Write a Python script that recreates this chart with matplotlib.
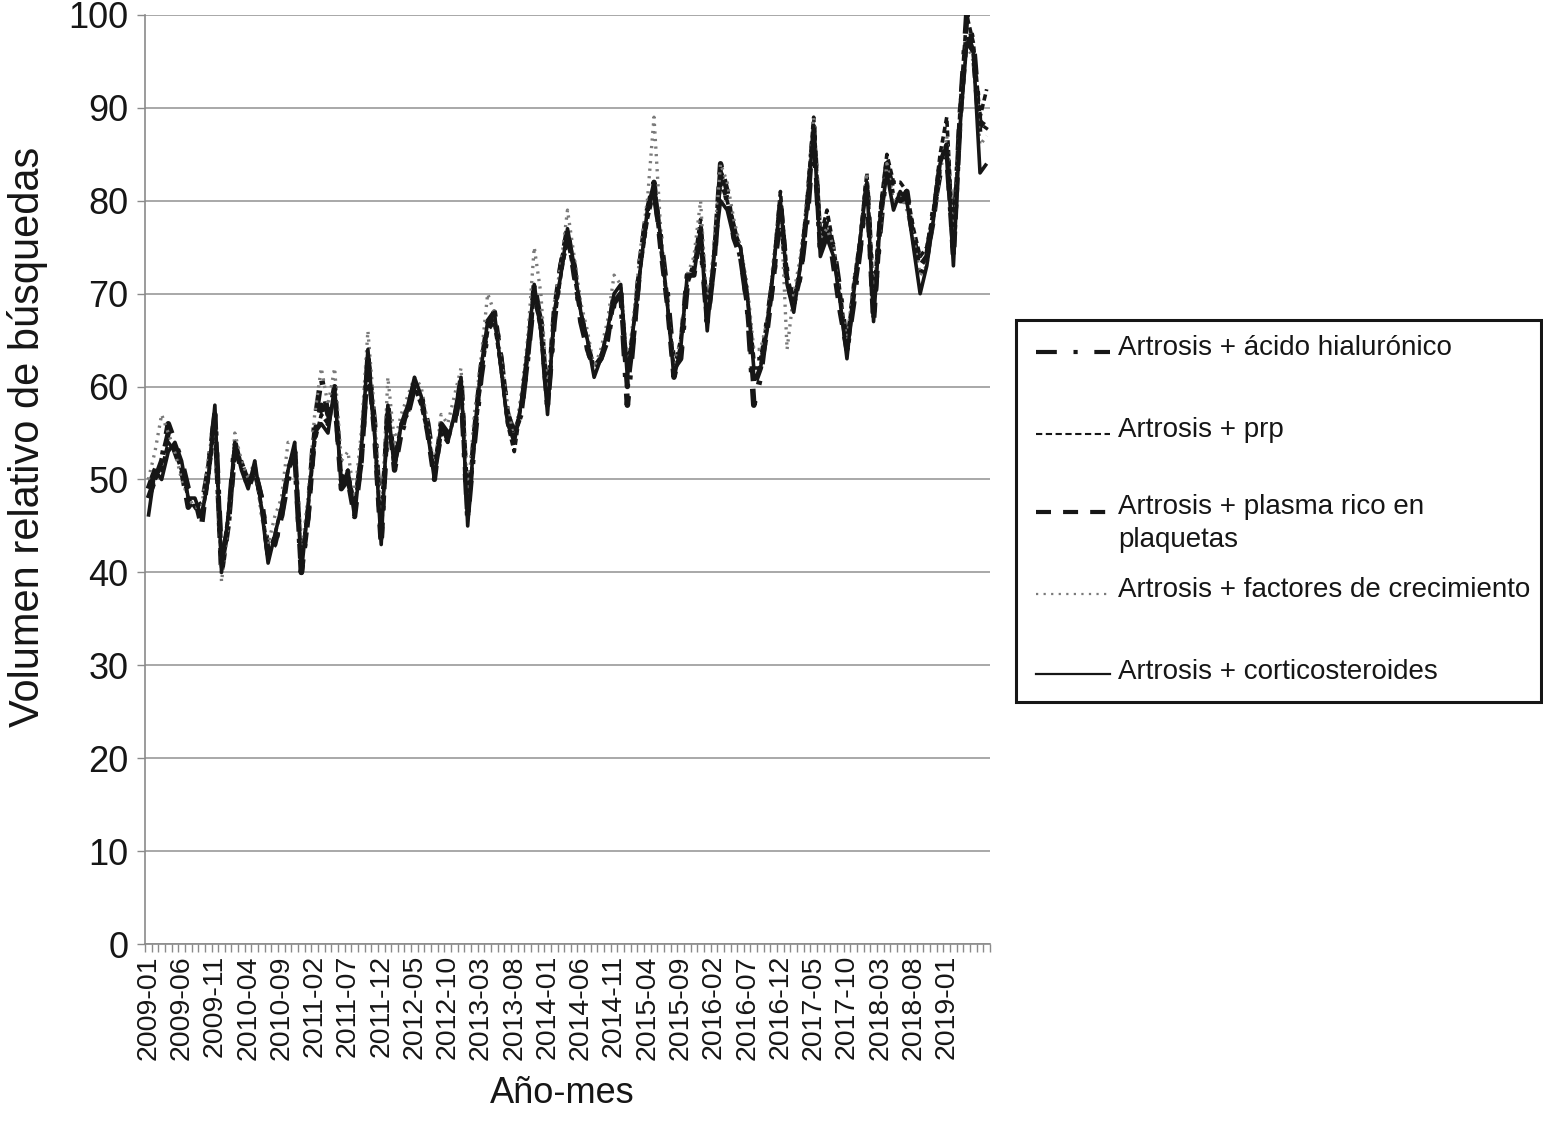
import matplotlib
matplotlib.use("Agg")
import matplotlib.pyplot as plt
from matplotlib.lines import Line2D
from matplotlib.patches import Rectangle
import numpy as np

plt.rcParams['font.family'] = ['Liberation Sans', 'DejaVu Sans']

# ---- data -------------------------------------------------------------
start_year, start_month, n_months = 2009, 1, 127
months = [f"{start_year + (start_month - 1 + k) // 12}-{(start_month - 1 + k) % 12 + 1:02d}"
          for k in range(n_months)]

acido = [49,51,52,56,54,52,49,48,47,51,
         57,41,45,54,51,50,51,48,42,43,
         46,50,53,40,46,56,61,57,59,50,
         50,47,52,63,56,44,57,52,55,57,
         60,59,56,51,55,55,56,60,46,54,
         61,66,68,63,57,55,57,63,70,67,
         58,67,73,76,73,67,64,62,63,65,
         69,70,58,66,74,79,81,76,70,62,
         63,71,73,76,67,73,83,80,77,74,
         69,58,61,67,72,79,72,69,72,78,
         87,75,77,75,70,64,69,75,82,68,
         77,84,80,80,81,76,72,74,79,83,
         85,75,89,100,97,88,89]

prp = [48,50,51,54,53,51,48,47,46,50,
       56,41,46,53,52,50,51,47,42,44,
       47,51,53,41,47,54,57,56,59,50,
       51,47,53,62,55,44,57,52,56,57,
       60,58,55,51,55,54,57,60,46,54,
       61,66,67,62,56,53,58,63,70,66,
       58,67,72,76,72,68,65,62,63,66,
       69,70,62,67,73,78,81,75,69,62,
       65,71,73,78,67,74,82,80,77,75,
       70,63,63,67,73,81,72,69,73,80,
       89,76,79,75,70,64,71,76,83,69,
       79,85,82,82,81,77,74,75,79,85,
       89,75,90,100,97,89,92]

plasma = [48,50,52,55,53,51,47,48,45,51,
          57,40,45,53,52,49,51,48,42,43,
          46,51,53,40,46,55,58,56,60,49,
          50,46,52,63,55,43,58,51,55,58,
          60,59,55,50,56,55,56,61,46,55,
          62,67,68,63,57,55,57,63,71,67,
          58,68,73,77,72,68,64,62,63,65,
          70,70,60,66,74,79,82,75,69,61,
          64,72,72,77,67,73,84,81,76,74,
          69,60,62,66,72,80,71,69,72,79,
          88,75,78,73,68,64,70,75,82,67,
          78,84,81,80,80,76,73,74,78,84,
          86,74,89,98,96,87,88]

factores = [50,53,57,55,53,50,48,47,47,52,
            57,39,45,55,52,50,52,46,43,46,
            48,54,54,42,48,57,62,58,62,52,
            53,48,55,66,57,45,61,54,57,59,
            61,60,56,51,57,56,59,62,48,57,
            63,70,68,63,58,54,59,65,75,70,
            59,69,73,79,74,69,66,62,64,67,
            72,71,62,68,75,80,89,77,69,62,
            65,72,74,80,68,75,84,82,78,75,
            71,64,64,67,74,80,64,70,74,80,
            89,76,77,75,69,65,71,76,83,70,
            77,84,80,81,79,76,72,73,78,83,
            87,75,88,97,95,86,87]

cortico = [46,51,50,53,54,52,48,48,46,50,
           58,40,46,54,51,49,52,47,41,44,
           47,51,54,40,47,55,56,55,60,49,
           51,46,53,64,55,43,58,51,56,58,
           61,59,55,50,56,54,57,61,45,55,
           62,67,68,62,56,54,58,64,71,66,
           57,68,72,77,73,68,65,61,63,66,
           70,71,61,67,73,79,82,76,69,61,
           64,72,72,77,66,74,80,79,76,75,
           70,62,62,66,73,80,71,68,73,79,
           88,74,76,74,69,63,70,76,82,67,
           78,83,79,81,80,75,70,73,78,84,
           86,73,88,97,96,83,84]

labels = ["Artrosis + ácido hialurónico",
          "Artrosis + prp",
          "Artrosis + plasma rico en\nplaquetas",
          "Artrosis + factores de crecimiento",
          "Artrosis + corticosteroides"]

# ---- styles ----------------------------------------------------------
BLACK = "#161616"
GRAY = "#7a7a7a"
styles = [
    dict(color=BLACK, lw=3.0, dashes=(5, 4, 1, 4)),          # acido
    dict(color=BLACK, lw=1.5, dashes=(3, 1.7)),              # prp
    dict(color=BLACK, lw=3.0, dashes=(3.6, 2.9)),            # plasma
    dict(color=GRAY, lw=1.6, dashes=(1, 2.4)),               # factores
    dict(color=BLACK, lw=1.6, linestyle="-"),                # cortico
]
plot_lw = [4.0, 2.6, 3.8, 2.4, 2.6]
series = [acido, prp, plasma, factores, cortico]

W, H = 1543, 1121
fig = plt.figure(figsize=(W / 100, H / 100), dpi=100)
ax = fig.add_axes([145 / W, 1 - 944 / H, 845 / W, 929 / H])

x = np.arange(n_months)
draw_order = [3, 1, 2, 0, 4]
for k in draw_order:
    st = dict(styles[k])
    st["lw"] = plot_lw[k]
    if "dashes" in st:
        base_lw = styles[k]["lw"]
        st["dashes"] = tuple(d * base_lw / plot_lw[k] for d in st["dashes"])
    ax.plot(x, series[k], solid_capstyle="butt", dash_capstyle="butt",
            dash_joinstyle="round", solid_joinstyle="round", zorder=3 + k * 0.1, **st)

ax.set_xlim(-0.5, n_months - 0.5)
ax.set_ylim(0, 100)
ax.set_yticks(np.arange(0, 101, 10))
ax.yaxis.grid(True, color="#9a9a9a", lw=1.2)
ax.set_axisbelow(True)

major = list(range(0, 121, 5))
ax.set_xticks(major)
ax.set_xticklabels([months[i] for i in major], rotation=90, fontsize=20.5, color=BLACK)
ax.set_xticks(np.arange(-0.5, n_months, 1), minor=True)
ax.tick_params(axis="x", which="major", length=0, pad=8)
ax.tick_params(axis="x", which="minor", length=6, width=1.0, color="#8a8a8a")
ax.tick_params(axis="y", which="major", length=6, width=1.0, color="#8a8a8a",
               labelsize=26, labelcolor=BLACK, pad=6)

for s in ["top", "right"]:
    ax.spines[s].set_visible(False)
for s in ["left", "bottom"]:
    ax.spines[s].set_color("#8a8a8a")
    ax.spines[s].set_linewidth(1.2)

ax.set_ylabel("Volumen relativo de búsquedas", fontsize=30, color=BLACK)
ax.yaxis.set_label_coords((48 - 145) / 845, (944 - 437) / 929)
ax.set_xlabel("Año-mes", fontsize=26, color=BLACK)
ax.xaxis.set_label_coords((562 - 145) / 845, (944 - 1076) / 929)

# ---- legend (manual, Excel style) ------------------------------------
def fx(px):
    return px / W

def fy(py):
    return 1 - py / H

fig.patches.append(Rectangle((fx(1016), fy(702)), fx(1541) - fx(1016), fy(320) - fy(702),
                             transform=fig.transFigure, fill=False, edgecolor=BLACK, lw=2.2))
handle_y = [352, 434, 512, 594, 674]
text_y = [348, 430, 507, 590, 672]
for k in range(5):
    st = dict(styles[k])
    fig.add_artist(Line2D([fx(1036), fx(1110)], [fy(handle_y[k])] * 2,
                          transform=fig.transFigure, dash_capstyle="butt", **st))
    first, *rest = labels[k].split("\n")
    fig.text(fx(1118), fy(text_y[k]), first, fontsize=20, color=BLACK,
             va="center", ha="left")
    for j, line in enumerate(rest):
        fig.text(fx(1118), fy(text_y[k] + 33 * (j + 1)), line, fontsize=20,
                 color=BLACK, va="center", ha="left")

fig.savefig("out.png", dpi=100, facecolor="white")
